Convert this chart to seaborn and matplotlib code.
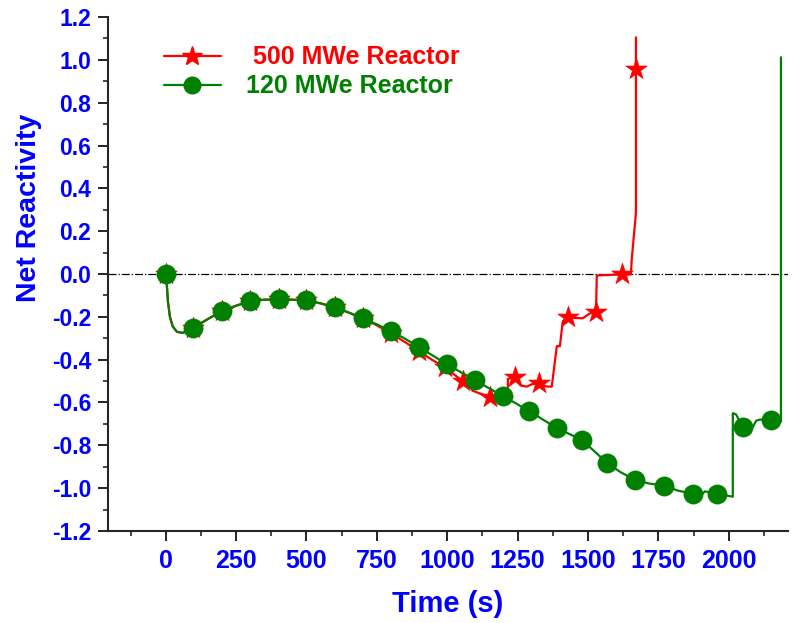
import matplotlib
matplotlib.use('Agg')
import matplotlib.pyplot as plt
from matplotlib.lines import Line2D
from matplotlib.ticker import MultipleLocator
import seaborn as sns

sns.set_style('ticks')
plt.rcParams['font.family'] = ['Liberation Sans', 'DejaVu Sans']
plt.rcParams['font.weight'] = 'bold'

# 500 MWe reactor: line trace and star positions
red_t = [0, 4, 8, 15, 25, 40, 60, 80, 96, 150, 199, 250, 298, 350, 401, 450, 497, 550,
         600, 650, 700, 750, 799, 850, 899, 945, 991, 1020, 1055, 1075, 1090, 1120, 1151,
         1186, 1215, 1215, 1240, 1260, 1282, 1300, 1325, 1350, 1371, 1389, 1400, 1410,
         1428, 1450, 1481, 1505, 1528, 1531, 1580, 1620, 1652, 1655, 1670, 1670, 1670]
red_y = [0, -0.05, -0.13, -0.2, -0.245, -0.27, -0.275, -0.265, -0.253, -0.21, -0.174,
         -0.148, -0.128, -0.12, -0.119, -0.12, -0.123, -0.137, -0.156, -0.18, -0.207,
         -0.24, -0.277, -0.318, -0.36, -0.4, -0.435, -0.465, -0.5, -0.51, -0.545, -0.56,
         -0.574, -0.598, -0.57, -0.49, -0.481, -0.52, -0.526, -0.515, -0.509, -0.525,
         -0.526, -0.337, -0.337, -0.221, -0.202, -0.205, -0.207, -0.185, -0.179, -0.007,
         -0.004, -0.002, -0.002, 0.067, 0.286, 0.958, 1.105]
red_mark_t = [0, 96, 199, 298, 401, 497, 600, 700, 799, 899, 991, 1055, 1151, 1240, 1325,
              1428, 1528, 1620, 1670]
red_mark_y = [0, -0.253, -0.174, -0.128, -0.119, -0.123, -0.156, -0.207, -0.277, -0.36,
              -0.435, -0.5, -0.574, -0.481, -0.509, -0.202, -0.179, -0.002, 0.958]

# 120 MWe reactor: line trace and circle positions
green_t = [0, 4, 8, 15, 25, 40, 60, 80, 96, 150, 199, 250, 298, 350, 401, 450, 497, 550,
           600, 650, 700, 750, 799, 850, 899, 950, 998, 1050, 1098, 1150, 1197, 1245, 1290,
           1340, 1389, 1430, 1478, 1520, 1567, 1615, 1666, 1715, 1769, 1820, 1872, 1905,
           1915, 1935, 1957, 2014, 2014, 2025, 2050, 2085, 2097, 2110, 2149, 2185, 2185]
green_y = [0, -0.05, -0.13, -0.2, -0.245, -0.27, -0.275, -0.265, -0.253, -0.21, -0.174,
           -0.148, -0.128, -0.12, -0.119, -0.12, -0.123, -0.137, -0.156, -0.18, -0.207,
           -0.235, -0.267, -0.302, -0.342, -0.382, -0.421, -0.46, -0.495, -0.535, -0.57,
           -0.605, -0.64, -0.68, -0.719, -0.745, -0.775, -0.825, -0.882, -0.925, -0.961,
           -0.978, -0.988, -1.012, -1.026, -1.028, -1.015, -1.02, -1.026, -1.04, -0.65,
           -0.655, -0.714, -0.715, -0.685, -0.68, -0.68, -0.69, 1.012]
green_mark_t = [0, 96, 199, 298, 401, 497, 600, 700, 799, 899, 998, 1098, 1197, 1290, 1389,
                1478, 1567, 1666, 1769, 1872, 1957, 2050, 2149]
green_mark_y = [0, -0.253, -0.174, -0.128, -0.119, -0.123, -0.156, -0.207, -0.267, -0.342,
                -0.421, -0.495, -0.57, -0.64, -0.719, -0.775, -0.882, -0.961, -0.988,
                -1.026, -1.026, -0.714, -0.68]

labels = [' 500 MWe Reactor', '120 MWe Reactor']
red = '#ff0000'
green = '#008000'
blue = '#0000ff'

fig = plt.figure(figsize=(8.04, 6.23), dpi=100)
ax = fig.add_axes([0.1343, 0.1477, 0.8458, 0.825])

ax.axhline(0, color='black', lw=0.9, ls='-.', zorder=1)

sns.lineplot(x=red_t, y=red_y, ax=ax, color=red, lw=1.6, estimator=None, sort=False, zorder=2)
sns.scatterplot(x=red_mark_t, y=red_mark_y, ax=ax, marker='*', s=260, color=red,
                edgecolor=red, linewidth=0.5, zorder=3)
sns.lineplot(x=green_t, y=green_y, ax=ax, color=green, lw=1.6, estimator=None, sort=False, zorder=4)
sns.scatterplot(x=green_mark_t, y=green_mark_y, ax=ax, marker='o', s=190, color=green,
                edgecolor=green, linewidth=0.5, zorder=5)

ax.set_xlim(-205, 2210)
ax.set_ylim(-1.2, 1.2)
ax.xaxis.set_major_locator(MultipleLocator(250))
ax.xaxis.set_minor_locator(MultipleLocator(125))
ax.yaxis.set_major_locator(MultipleLocator(0.2))
ax.yaxis.set_minor_locator(MultipleLocator(0.1))
ax.yaxis.set_major_formatter(plt.FormatStrFormatter('%.1f'))

for side in ['top', 'right']:
    ax.spines[side].set_visible(False)
for side in ['left', 'bottom']:
    ax.spines[side].set_linewidth(1.5)
ax.tick_params(which='major', direction='out', length=7, width=1.2, colors='black')
ax.tick_params(which='minor', direction='out', length=3.6, width=1.2)
ax.tick_params(axis='x', which='major', pad=6, labelsize=18, labelcolor=blue)
ax.tick_params(axis='y', which='major', pad=5, labelsize=16.5, labelcolor=blue)
for lab in ax.get_xticklabels() + ax.get_yticklabels():
    lab.set_fontweight('bold')

ax.set_xlabel('Time (s)', fontsize=21, fontweight='bold', color=blue)
ax.set_ylabel('Net Reactivity', fontsize=20.5, fontweight='bold', color=blue)
ax.xaxis.set_label_coords(0.5, -0.115)
ax.yaxis.set_label_coords(-0.097, 0.628)

handles = [Line2D([], [], color=red, lw=1.6, marker='*', markersize=15),
           Line2D([], [], color=green, lw=1.6, marker='o', markersize=12)]
leg = ax.legend(handles, labels, loc='upper left', bbox_to_anchor=(0.082, 0.945),
                frameon=False, handlelength=2.3, handletextpad=1.0,
                labelspacing=0.2, borderpad=0, borderaxespad=0,
                prop={'weight': 'bold', 'size': 18})
for txt, c in zip(leg.get_texts(), [red, green]):
    txt.set_color(c)

fig.savefig('out.png', dpi=100)
